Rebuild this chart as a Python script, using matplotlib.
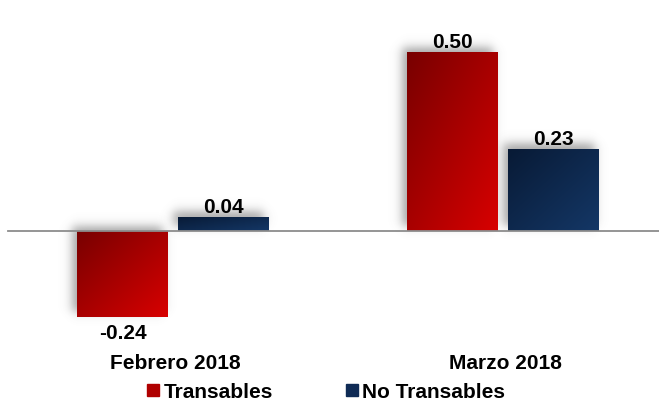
import numpy as np
import matplotlib
matplotlib.use("Agg")
import matplotlib.pyplot as plt
from matplotlib.colors import to_rgb
from matplotlib.lines import Line2D

categories = ["Febrero 2018", "Marzo 2018"]
series_names = ["Transables", "No Transables"]
transables = [-0.24, 0.50]
no_transables = [0.04, 0.23]
labels_t = ["-0.24", "0.50"]
labels_nt = ["0.04", "0.23"]

plt.rcParams['font.family'] = ['Liberation Sans', 'DejaVu Sans']

W, H = 659, 402
fig = plt.figure(figsize=(W / 100, H / 100), dpi=100)
ax = fig.add_axes([0, 0, 1, 1])
ppx = 330.0  # px per x unit
ppy = 358.0  # px per y unit
x0 = 173.0
y0 = H - 232.0
ax.set_xlim(-x0 / ppx, (W - x0) / ppx)
ax.set_ylim(-y0 / ppy, (H - y0) / ppy)
ax.axis('off')

bw = 91 / ppx
gap = 10 / ppx
x = np.arange(len(categories))
pos_t = x - (bw + gap) / 2
pos_nt = x + (bw + gap) / 2

grad = {
    "t": (to_rgb("#780000"), to_rgb("#d80000")),
    "nt": (to_rgb("#081a35"), to_rgb("#143766")),
}

def shadow(xc, v):
    # blurred shadow offset up-left
    ox, oy = -5 / ppx, 5 / ppy
    bl, br = xc - bw / 2 + ox, xc + bw / 2 + ox
    lo, hi = min(0, v) + oy, max(0, v) + oy
    pad = 14
    ex = [bl - pad / ppx, br + pad / ppx, lo - pad / ppy, hi + pad / ppy]
    nx = int((ex[1] - ex[0]) * ppx) + 1
    ny = int((ex[3] - ex[2]) * ppy) + 1
    xs = np.linspace(ex[0], ex[1], nx)
    ys = np.linspace(ex[3], ex[2], ny)
    s = 3.0
    sx = 1 / (1 + np.exp(-(xs - bl) * ppx / s)) * 1 / (1 + np.exp((xs - br) * ppx / s))
    sy = 1 / (1 + np.exp(-(ys - lo) * ppy / s)) * 1 / (1 + np.exp((ys - hi) * ppy / s))
    a = np.outer(sy, sx) * 0.55
    img = np.zeros((ny, nx, 4))
    img[..., :3] = 0.35
    img[..., 3] = a
    ax.imshow(img, extent=ex, aspect='auto', zorder=1, interpolation='bilinear')

def gbar(xc, v, key):
    bars = ax.bar([xc], [v], width=bw, color='none', edgecolor='none', zorder=3)
    rect = bars[0]
    c1, c2 = grad[key]
    n = 100
    u = np.linspace(0, 1, n)
    t = (u[None, :] + u[:, None]) / 2
    img = np.zeros((n, n, 3))
    for i in range(3):
        img[..., i] = c1[i] + (c2[i] - c1[i]) * t
    lo, hi = min(0, v), max(0, v)
    im = ax.imshow(img, extent=[xc - bw / 2, xc + bw / 2, lo, hi], aspect='auto',
                   zorder=3, interpolation='bilinear')
    im.set_clip_path(rect)

for i in range(len(categories)):
    shadow(pos_t[i], transables[i])
    shadow(pos_nt[i], no_transables[i])
for i in range(len(categories)):
    gbar(pos_t[i], transables[i], "t")
    gbar(pos_nt[i], no_transables[i], "nt")

ax.axhline(0, xmin=8 / W, xmax=1, color='#8c8c8c', lw=1.3, zorder=4)

fs = 15
for xs_, vals, labs in [(pos_t, transables, labels_t), (pos_nt, no_transables, labels_nt)]:
    for xi, v, lab in zip(xs_, vals, labs):
        if v >= 0:
            ax.text(xi, v + 0.5 / ppy, lab, ha='center', va='bottom', fontsize=fs,
                    fontweight='bold', zorder=5)
        else:
            ax.text(xi, v - 6 / ppy, lab, ha='center', va='top', fontsize=fs,
                    fontweight='bold', zorder=5)

for xi, c in zip(x, categories):
    ax.text(xi + 2 / ppx, -(364 - 232) / ppy, c, ha='center', va='center', fontsize=fs,
            fontweight='bold')

handles = [Line2D([], [], marker='s', ls='none', markersize=8, color='#b00000'),
           Line2D([], [], marker='s', ls='none', markersize=8, color='#0f2b55')]
fig.legend(handles, series_names, loc='center', bbox_to_anchor=(0.493, 1 - 393 / H),
           ncol=2, frameon=False, prop={'weight': 'bold', 'size': fs},
           handletextpad=0.1, columnspacing=3.4, handlelength=0.8)

fig.savefig("out.png", dpi=100)
